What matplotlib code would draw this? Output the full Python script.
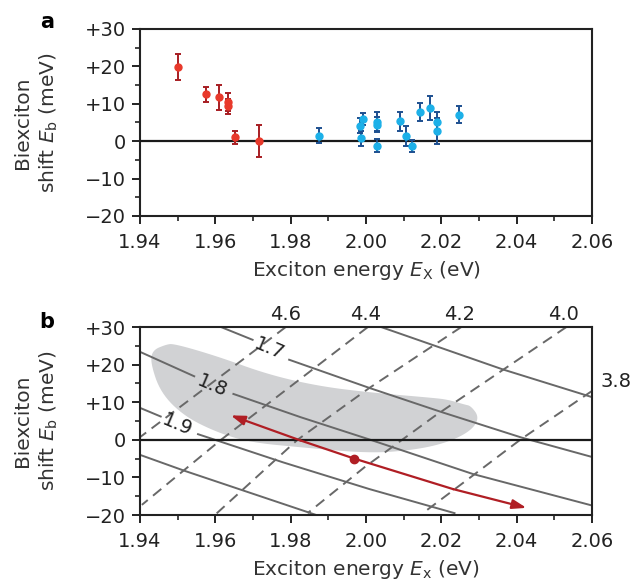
import numpy as np
import matplotlib
matplotlib.use("Agg")
import matplotlib.pyplot as plt
from matplotlib.ticker import MultipleLocator

plt.rcParams['font.family'] = ['DejaVu Sans']
plt.rcParams['mathtext.fontset'] = 'dejavusans'
plt.rcParams['font.size'] = 14

# ---- panel a data ----
red_x = [1.9501, 1.9576, 1.9610, 1.9633, 1.9633, 1.9653, 1.9716]
red_y = [19.8, 12.6, 11.7, 10.5, 9.4, 1.0, 0.1]
red_err = [3.5, 2.0, 3.4, 2.4, 2.0, 1.8, 4.2]

blue_x = [1.9876, 1.9985, 1.9991, 1.9987, 2.0028, 2.0028, 2.0028, 2.0091,
          2.0107, 2.0123, 2.0143, 2.0171, 2.0189, 2.0189, 2.0246]
blue_y = [1.4, 4.1, 6.0, 0.8, 5.2, 4.4, -1.2, 5.3, 1.4, -1.2, 7.9, 8.9,
          5.0, 2.7, 7.1]
blue_err = [2.0, 2.0, 1.6, 2.0, 2.6, 2.0, 1.8, 2.6, 2.7, 1.6, 2.4, 3.3,
            2.7, 3.4, 2.2]

# ---- panel b data ----
# solid contours (nan = gap for the inline label)
s16_x = [2.0040, 2.0364, 2.0605]
s16_y = [30.0, 18.7, 11.2]
s17_x = [1.9615, 1.9699, np.nan, 1.9796, 2.0009, 2.0200, 2.0413, 2.0605]
s17_y = [30.0, 26.6, np.nan, 21.3, 13.8, 7.4, 0.6, -4.7]
s18_x = [1.9400, 1.9544, np.nan, 1.9648, 1.9827, 2.0009, 2.0284, 2.0605]
s18_y = [23.4, 16.9, np.nan, 12.2, 6.0, 0.1, -9.1, -17.6]
s19_x = [1.9400, 1.9455, np.nan, 1.9554, 1.9780, 2.0009, 2.0235]
s19_y = [8.5, 6.2, np.nan, 1.5, -6.0, -13.1, -19.5]
s20_x = [1.9400, 1.9517, 1.9868]
s20_y = [-4.0, -8.2, -20.0]
solid_lines = [(s16_x, s16_y), (s17_x, s17_y), (s18_x, s18_y),
               (s19_x, s19_y), (s20_x, s20_y)]

solid_labels = ['1.7', '1.8', '1.9']
solid_label_x = [1.9743, 1.9592, 1.9499]
solid_label_y = [24.2, 14.3, 3.9]

# dashed contours
d46_x = [1.9787, 1.9650, 1.9400]
d46_y = [30.0, 19.6, 0.7]
d44_x = [2.0005, 1.9615, 1.9405]
d44_y = [30.0, 0.0, -17.3]
d42_x = [2.0253, 2.0009, 1.9818, 1.9601]
d42_y = [30.0, 13.8, 0.0, -19.8]
d40_x = [2.0532, 2.0368, 2.0182, 1.9996, 1.9845]
d40_y = [30.0, 18.9, 6.3, -7.3, -19.5]
d38_x = [2.0600, 2.0412, 2.0289, 2.0151]
d38_y = [13.0, 0.2, -9.1, -19.5]
dashed_lines = [(d46_x, d46_y), (d44_x, d44_y), (d42_x, d42_y),
                (d40_x, d40_y), (d38_x, d38_y)]

dashed_labels = ['4.6', '4.4', '4.2', '4.0']
dashed_label_x = [1.9787, 2.0000, 2.0248, 2.0525]
dashed_label_y = 33.3
side_label = '3.8'
side_label_pos = (2.0622, 15.6)

# shaded region outline
blob_x = [1.9468, 1.9490, 1.9606, 1.9739, 1.9873, 2.0009, 2.0173, 2.0217,
          2.0261, 2.0279, 2.0301, 2.0279, 2.0217, 2.0129, 2.0009, 1.9827,
          1.9694, 1.9606, 1.9517, 1.9455, 1.9428, 1.9433]
blob_y = [25.3, 25.6, 22.2, 17.4, 14.3, 12.6, 11.2, 10.7, 9.4, 9.0, 5.9,
          2.4, -0.7, -2.7, -3.6, -2.0, -0.7, 1.9, 6.3, 12.5, 20.4, 23.8]

# red trajectory
arrow_x = [1.9641, 1.9827, 1.9969, 2.0231, 2.0426]
arrow_y = [6.5, -0.2, -5.0, -13.1, -18.1]
dot_x, dot_y = 1.9969, -5.0

ytick_vals = [-20, -10, 0, 10, 20, 30]
ytick_labels = ['\u221220', '\u221210', '0', '+10', '+20', '+30']
xtick_vals = [1.94, 1.96, 1.98, 2.00, 2.02, 2.04, 2.06]
xtick_labels = ['1.94', '1.96', '1.98', '2.00', '2.02', '2.04', '2.06']

contour_grey = '#686868'
dark_red = '#b01e24'


def chaikin(xs, ys, n_iter=3):
    # corner cutting, only to round off the read outline
    pts = np.column_stack([xs, ys])
    for _ in range(n_iter):
        nxt = np.roll(pts, -1, axis=0)
        q = 0.75 * pts + 0.25 * nxt
        r = 0.25 * pts + 0.75 * nxt
        pts = np.empty((2 * len(q), 2))
        pts[0::2] = q
        pts[1::2] = r
    return pts[:, 0], pts[:, 1]


fig = plt.figure(figsize=(6.32, 5.82), dpi=100)
ax_a = fig.add_axes([0.2215, 0.6289, 0.7152, 0.3213])
ax_b = fig.add_axes([0.2215, 0.1151, 0.7152, 0.3230])


def style_axes(ax, xlabel):
    ax.set_xlim(1.94, 2.06)
    ax.set_ylim(-20, 30)
    ax.set_xticks(xtick_vals)
    ax.set_xticklabels(xtick_labels)
    ax.set_yticks(ytick_vals)
    ax.set_yticklabels(ytick_labels)
    ax.xaxis.set_minor_locator(MultipleLocator(0.01))
    ax.yaxis.set_minor_locator(MultipleLocator(5))
    ax.tick_params(which='major', direction='out', length=6, width=1.4,
                   labelsize=14, pad=4, colors='#222222')
    ax.tick_params(axis='x', which='major', pad=6)
    ax.tick_params(which='minor', direction='out', length=3.5, width=1.2,
                   colors='#222222')
    for sp in ax.spines.values():
        sp.set_linewidth(1.5)
        sp.set_color('#222222')
    ax.set_xlabel(xlabel, fontsize=14.5, color='#333333', labelpad=5)
    ax.set_ylabel('Biexciton\nshift $\\mathit{E}_\\mathrm{b}$ (meV)',
                  fontsize=14.5, color='#333333', linespacing=1.3)
    ax.yaxis.set_label_coords(-0.178, 0.5)
    ax.axhline(0, color='#1a1a1a', lw=1.6, zorder=3)


# ---- panel a ----
style_axes(ax_a, 'Exciton energy $\\mathit{E}_\\mathrm{X}$ (eV)')
ax_a.errorbar(red_x, red_y, yerr=red_err, fmt='o', ms=5, color='#e8392b',
              ecolor='#a71d22', elinewidth=1.4, capsize=2.4, capthick=1.4,
              zorder=4)
ax_a.errorbar(blue_x, blue_y, yerr=blue_err, fmt='o', ms=5, color='#1cb0e8',
              ecolor='#1d4f8f', elinewidth=1.4, capsize=2.4, capthick=1.4,
              zorder=4)
fig.text(0.074, 0.963, 'a', fontsize=15, fontweight='bold', ha='center',
         va='center')

# ---- panel b ----
style_axes(ax_b, 'Exciton energy $\\mathit{E}_\\mathrm{x}$ (eV)')
bx, by = chaikin(blob_x, blob_y)
ax_b.fill(bx, by, color='#d1d2d4', lw=0, zorder=1)
for xs, ys in solid_lines:
    ax_b.plot(xs, ys, color=contour_grey, lw=1.4, zorder=2)
for xs, ys in dashed_lines:
    ax_b.plot(xs, ys, color=contour_grey, lw=1.4, ls=(0, (5.5, 3.5)), zorder=2)
for lab, lx, ly in zip(solid_labels, solid_label_x, solid_label_y):
    ax_b.text(lx, ly, lab, fontsize=14, rotation=-23, ha='center',
              va='center', color='#222222', zorder=3)
for lab, lx in zip(dashed_labels, dashed_label_x):
    ax_b.text(lx, dashed_label_y, lab, fontsize=14, ha='center', va='center',
              color='#222222', clip_on=False)
ax_b.text(side_label_pos[0], side_label_pos[1], side_label, fontsize=14,
          ha='left', va='center', color='#222222', clip_on=False)

ax_b.plot(arrow_x[1:-1], arrow_y[1:-1], color=dark_red, lw=1.6, zorder=4)
head = '-|>,head_length=0.6,head_width=0.2'
ax_b.annotate('', xy=(arrow_x[0], arrow_y[0]), xytext=(arrow_x[1], arrow_y[1]),
              arrowprops=dict(arrowstyle=head, color=dark_red, lw=1.6,
                              shrinkA=0, shrinkB=0), zorder=4)
ax_b.annotate('', xy=(arrow_x[-1], arrow_y[-1]),
              xytext=(arrow_x[-2], arrow_y[-2]),
              arrowprops=dict(arrowstyle=head, color=dark_red, lw=1.6,
                              shrinkA=0, shrinkB=0), zorder=4)
ax_b.plot([dot_x], [dot_y], 'o', ms=6, color=dark_red, zorder=5)
fig.text(0.074, 0.447, 'b', fontsize=15, fontweight='bold', ha='center',
         va='center')

fig.savefig('out.png', dpi=100)
